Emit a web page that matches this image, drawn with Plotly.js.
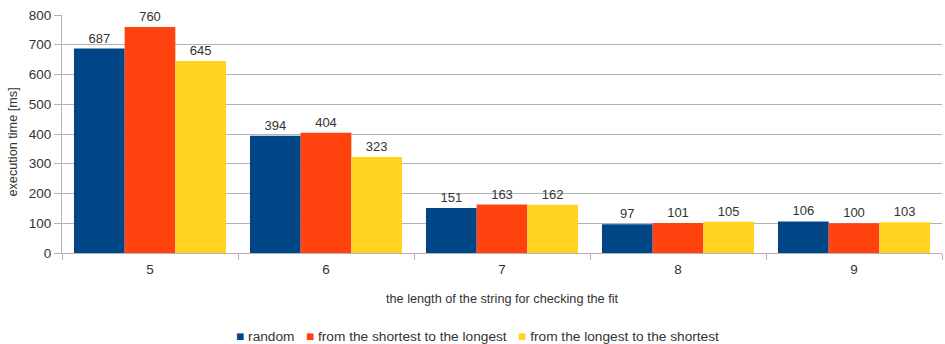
<!DOCTYPE html>
<html>
<head>
<meta charset="utf-8">
<script src="https://cdn.plot.ly/plotly-3.0.1.min.js"></script>
<style>
  html, body { margin: 0; padding: 0; background: #fff; }
  #chart { width: 945px; height: 344px; }
</style>
</head>
<body>
<div id="chart"></div>
<script>
// String lengths tested and the measured execution times (ms) per ordering
const lengths = ['5', '6', '7', '8', '9'];
const randomOrder = [687, 394, 151, 97, 106];
const shortestFirst = [760, 404, 163, 101, 100];
const longestFirst = [645, 323, 162, 105, 103];

const seriesNames = ['random', 'from the shortest to the longest', 'from the longest to the shortest'];
const seriesColors = ['#004586', '#ff420e', '#ffd320'];
const seriesValues = [randomOrder, shortestFirst, longestFirst];

const textColor = '#333333';
const gridColor = '#b3b3b3';
const fontFamily = '"Liberation Sans", Arial, sans-serif';

const traces = seriesValues.map((vals, i) => ({
  type: 'bar',
  name: seriesNames[i],
  x: lengths,
  y: vals,
  text: vals.map(String),
  textposition: 'outside',
  cliponaxis: false,
  textfont: { family: fontFamily, size: 13, color: textColor },
  marker: { color: seriesColors[i], line: { width: 0 } },
  hoverinfo: 'x+y+name',
  showlegend: false
}));

// Compact legend: coloured square glyph followed by the series name
const nbsp = '\u00a0';
const legendText = seriesNames
  .map((n, i) => `<span style="color:${seriesColors[i]}">\u25A0</span>${nbsp}${n}`)
  .join(nbsp + nbsp + nbsp);

const layout = {
  width: 945,
  height: 344,
  margin: { l: 62, r: 3, t: 15, b: 91 },
  paper_bgcolor: '#ffffff',
  plot_bgcolor: '#ffffff',
  font: { family: fontFamily, size: 13, color: textColor },
  barmode: 'group',
  bargap: 0.136,
  bargroupgap: 0,
  showlegend: false,
  xaxis: {
    type: 'category',
    showline: true,
    linecolor: gridColor,
    linewidth: 1,
    ticks: 'outside',
    tickson: 'boundaries',
    ticklen: 6,
    tickcolor: gridColor,
    ticklabelstandoff: 4,
    tickfont: { family: fontFamily, size: 13.5, color: textColor },
    showgrid: false,
    title: {
      text: 'the length of the string for checking the fit',
      font: { family: fontFamily, size: 12.7, color: textColor },
      standoff: 17
    },
    fixedrange: true
  },
  yaxis: {
    range: [0, 800],
    dtick: 100,
    tick0: 0,
    showline: true,
    linecolor: gridColor,
    linewidth: 1,
    ticks: 'outside',
    ticklen: 7,
    tickcolor: gridColor,
    tickfont: { family: fontFamily, size: 13.5, color: textColor },
    showgrid: true,
    gridcolor: gridColor,
    gridwidth: 1,
    zeroline: false,
    fixedrange: true
  },
  annotations: [
    {
      // y-axis title
      text: 'execution time [ms]',
      textangle: -90,
      xref: 'paper', yref: 'paper',
      x: 0, y: 0.464,
      xanchor: 'center', yanchor: 'middle',
      xshift: -49,
      showarrow: false,
      font: { family: fontFamily, size: 12.7, color: textColor }
    },
    {
      // legend
      text: legendText,
      xref: 'paper', yref: 'paper',
      x: 0.4727, y: -0.3517,
      xanchor: 'center', yanchor: 'middle',
      showarrow: false,
      font: { family: fontFamily, size: 13.7, color: textColor }
    }
  ]
};

Plotly.newPlot('chart', traces, layout, { displayModeBar: false, staticPlot: true });
</script>
</body>
</html>
